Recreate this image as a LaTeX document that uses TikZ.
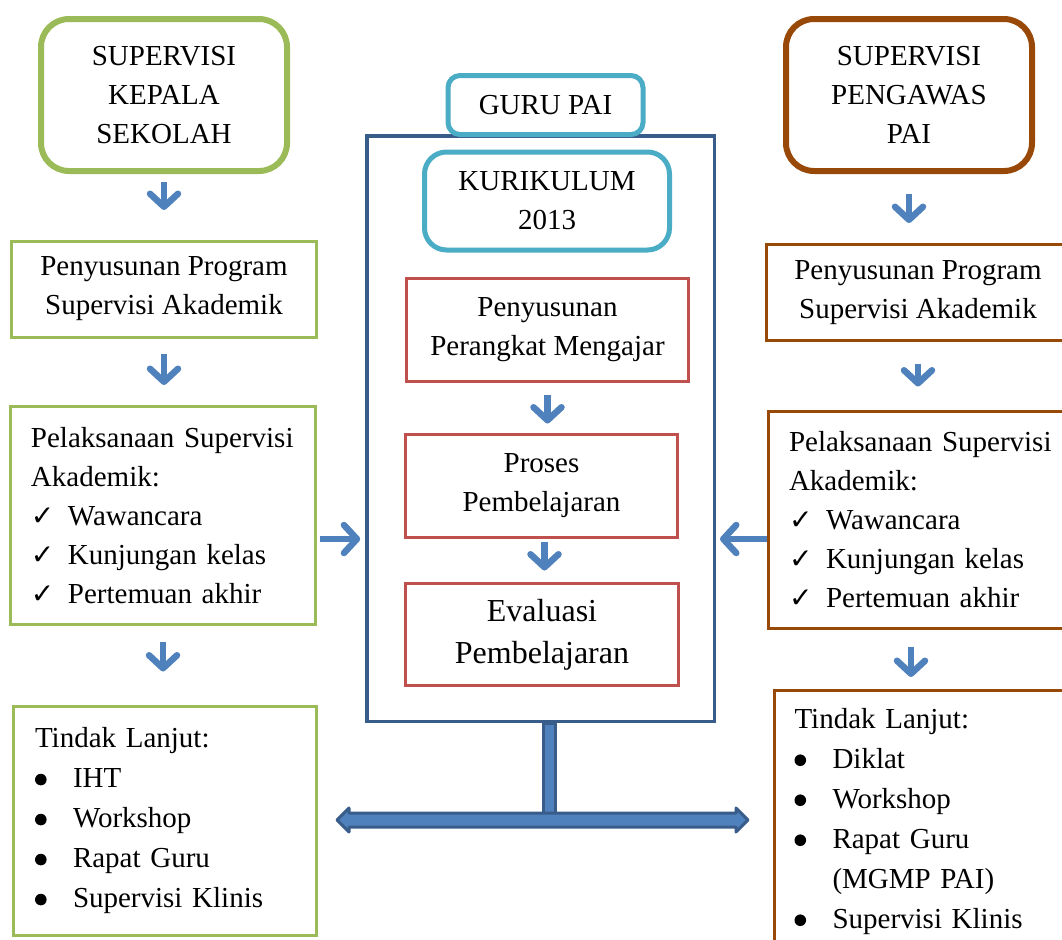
\documentclass[tikz,border=0pt]{standalone}
\usepackage{fontspec}
\setmainfont{Liberation Serif}
\newfontfamily\dejavu{DejaVu Sans}
\usetikzlibrary{arrows.meta}

\definecolor{hijau}{HTML}{9BBB59}
\definecolor{coklat}{HTML}{984807}
\definecolor{tosca}{HTML}{4BACC6}
\definecolor{merah}{HTML}{C0504D}
\definecolor{biru}{HTML}{385D8A}
\definecolor{panah}{HTML}{4F81BD}

\newcommand{\cek}{\makebox[18.5pt][l]{{\dejavu\fontsize{14pt}{14pt}\selectfont ✓}}}
\newcommand{\titik}{\makebox[19pt][l]{\tikz[baseline=0pt]\fill (3pt,4.2pt) circle[radius=2.9pt];}}

\begin{document}
\begin{tikzpicture}[x=0.5pt,y=-0.5pt,
	kotak/.style={draw, fill=white, line width=1.5pt, inner sep=0pt, align=center, font={\fontsize{14.5pt}{19.5pt}\selectfont}},
	bulat/.style={kotak, line width=3pt, rounded corners=14pt, minimum width=123pt, minimum height=76pt},
	daftar/.style={kotak, align=left, inner xsep=10.25pt, inner ysep=0pt, text width=132pt},
	panahkecil/.style={draw=panah, line width=3.25pt, -{Straight Barb[round,length=6.5pt,width=14pt]}},
	blok/.style={fill=panah, draw=biru, line width=1.5pt, line join=round}]
	
	\clip (0,0) rectangle (1062,939);
	\fill[white] (0,0) rectangle (1062,939);
	
	% kepala sekolah
	\node[bulat, draw=hijau] (ks) at (164,95) {SUPERVISI\\KEPALA\\SEKOLAH};
	\node[kotak, draw=hijau, minimum width=152.5pt, minimum height=48pt] (ks1) at (164,289) {Penyusunan Program\\Supervisi Akademik};
	\node[daftar, draw=hijau, minimum height=109pt] (ks2) at (163,515.5) {Pelaksanaan Supervisi\\Akademik:\\\cek Wawancara\\\cek Kunjungan kelas\\\cek Pertemuan akhir};
	\node[daftar, draw=hijau, inner xsep=10.75pt, text width=130pt, minimum height=114.5pt, font={\fontsize{14.5pt}{20pt}\selectfont}] (ks3) at (165,821) {Tindak Lanjut:\\\titik IHT\\\titik Workshop\\\titik Rapat Guru\\\titik Supervisi Klinis};
	
	% pengawas
	\node[bulat, draw=coklat] (pg) at (909,95) {SUPERVISI\\PENGAWAS\\PAI};
	\node[kotak, draw=coklat, minimum width=151.5pt, minimum height=48pt] (pg1) at (918,292.5) {Penyusunan Program\\Supervisi Akademik};
	\node[daftar, draw=coklat, minimum height=108.5pt] (pg2) at (921,520) {Pelaksanaan Supervisi\\Akademik:\\\cek Wawancara\\\cek Kunjungan kelas\\\cek Pertemuan akhir};
	\node[daftar, draw=coklat, anchor=north west, inner ysep=9.25pt, font={\fontsize{14.5pt}{20pt}\selectfont}] (pg3) at (772.5,688.5) {Tindak Lanjut:\\\titik Diklat\\\titik Workshop\\\titik Rapat Guru\\\hspace*{19pt}(MGMP PAI)\\\titik Supervisi Klinis};
	
	% guru
	\node[draw=biru, line width=1.75pt, minimum width=173.75pt, minimum height=292.75pt] (bingkai) at (540.5,428.5) {};
	\node[kotak, draw=tosca, line width=2.5pt, rounded corners=6pt, minimum width=97.5pt, minimum height=29.5pt] (guru) at (545.5,105) {GURU PAI};
	\node[kotak, draw=tosca, line width=2.5pt, rounded corners=11pt, minimum width=122.5pt, minimum height=49pt] (kur) at (547,201) {KURIKULUM\\2013};
	\node[kotak, draw=merah, minimum width=141pt, minimum height=51.5pt] (rpp) at (547.5,330) {Penyusunan\\Perangkat Mengajar};
	\node[kotak, draw=merah, minimum width=136pt, minimum height=51.5pt] (proses) at (541.5,486) {Proses\\Pembelajaran};
	\node[kotak, draw=merah, minimum width=136.5pt, minimum height=51pt, font={\fontsize{16pt}{21pt}\selectfont}] (eval) at (542,634.5) {Evaluasi\\Pembelajaran};
	
	\draw[panahkecil, shorten <=4pt, shorten >=14.75pt] (ks.south) -- (ks.south |- ks1.north);
	\draw[panahkecil, shorten <=7.5pt, shorten >=10pt] (ks1.south) -- (ks1.south |- ks2.north);
	\draw[panahkecil, shorten <=8pt, shorten >=16.75pt] (ks2.south) -- (ks2.south |- ks3.north);
	\draw[panahkecil, shorten <=10pt, shorten >=10pt] (pg.south) -- (pg.south |- pg1.north);
	\draw[panahkecil, shorten <=11pt, shorten >=11.75pt] (pg1.south) -- (pg1.south |- pg2.north);
	\draw[panahkecil, shorten <=8.25pt, shorten >=5.75pt] ([xshift=-5pt]pg2.south) -- ([xshift=-5pt]pg2.south |- pg3.north);
	\draw[panahkecil, shorten <=5.75pt, shorten >=4.75pt] (rpp.south) -- (rpp.south |- proses.north);
	\draw[panahkecil, shorten <=1.25pt, shorten >=5.75pt] ([xshift=1.5pt]proses.south) -- ([xshift=1.5pt]proses.south |- eval.north);
	\draw[panahkecil, shorten <=1.25pt, shorten >=2.4pt] (ks2.east |- proses.south) -- (bingkai.west |- proses.south);
	\draw[panahkecil, shorten >=2pt] (pg2.west |- proses.south) -- (bingkai.east |- proses.south);
	
	% tiang dan alas
	\coordinate (tiang) at ([xshift=4.25pt]bingkai.south);
	\coordinate (alas) at (tiang |- 0,813);
	\draw[blok] ([xshift=-3pt]tiang) rectangle ([xshift=3pt]alas);
	\draw[blok] (337,820) -- ++(12,-12) -- ++(0,5) -- (736,813) -- ++(0,-5) -- ++(12,12) -- ++(-12,12) -- ++(0,-5) -- (349,827) -- ++(0,5) -- cycle;
	
\end{tikzpicture}
\end{document}
